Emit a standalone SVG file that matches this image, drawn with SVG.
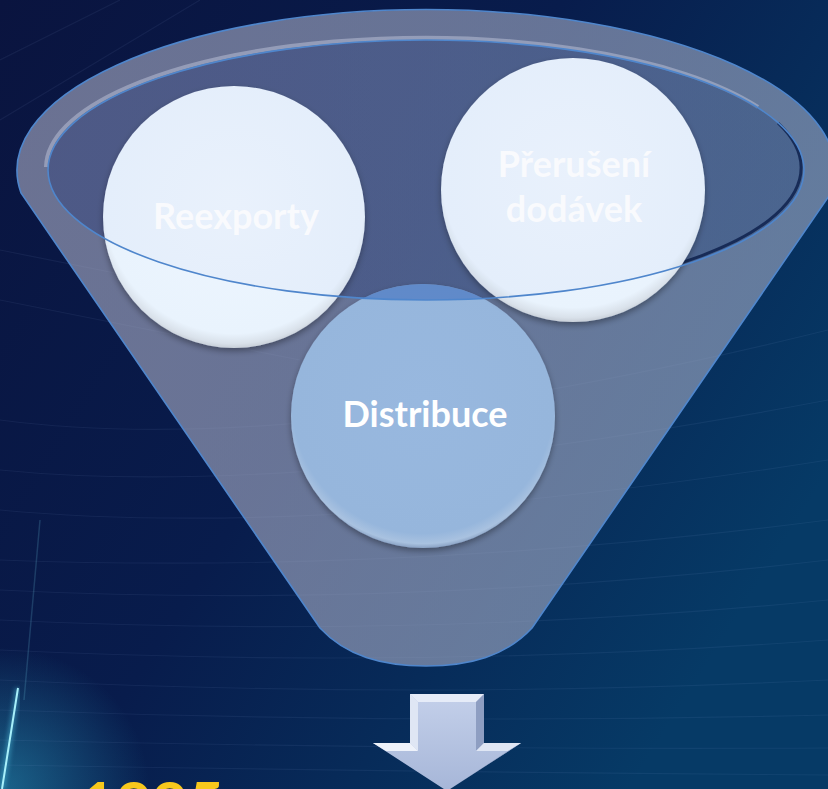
<svg xmlns="http://www.w3.org/2000/svg" width="828" height="789" viewBox="0 0 828 789">
<defs>
<style>
.lbl{font-family:Lato,"Open Sans","Liberation Sans",sans-serif;font-weight:bold;font-size:36px;fill:#ffffff;text-anchor:middle}
.streak{fill:none;stroke:#9fb8e8;stroke-width:1.2;opacity:0.08}
</style>
<linearGradient id="bg" x1="0" y1="0" x2="1" y2="0.6">
<stop offset="0" stop-color="#0a143f"/>
<stop offset="0.5" stop-color="#081c4c"/>
<stop offset="1" stop-color="#063a66"/>
</linearGradient>
<radialGradient id="glowBL" cx="0" cy="1" r="0.18">
<stop offset="0" stop-color="#2aa0c0" stop-opacity="0.55"/>
<stop offset="1" stop-color="#2aa0c0" stop-opacity="0"/>
</radialGradient>
<linearGradient id="funnelFill" x1="0" y1="0" x2="1" y2="0">
<stop offset="0" stop-color="#a2a6c0"/>
<stop offset="1" stop-color="#98a6c2"/>
</linearGradient>
<linearGradient id="innerFill" x1="0" y1="0" x2="1" y2="0">
<stop offset="0" stop-color="#1c2a68"/>
<stop offset="1" stop-color="#1e3e72"/>
</linearGradient>
<radialGradient id="whiteCircle" cx="0.5" cy="0.45" r="0.55">
<stop offset="0" stop-color="#eef6fe"/>
<stop offset="0.9" stop-color="#e9f3fd"/>
<stop offset="0.97" stop-color="#d9e1ea"/>
<stop offset="1" stop-color="#c8cfd8"/>
</radialGradient>
<radialGradient id="blueCircle" cx="0.5" cy="0.45" r="0.55">
<stop offset="0" stop-color="#98b8df"/>
<stop offset="0.9" stop-color="#96b6dc"/>
<stop offset="0.97" stop-color="#a9c2e0"/>
<stop offset="1" stop-color="#8aa2c4"/>
</radialGradient>
<linearGradient id="arrowFill" x1="0" y1="0" x2="0" y2="1">
<stop offset="0" stop-color="#c4d0ea"/>
<stop offset="1" stop-color="#a6b6d8"/>
</linearGradient>
<filter id="shadow" x="-20%" y="-20%" width="140%" height="140%">
<feDropShadow dx="0" dy="3" stdDeviation="3" flood-color="#000" flood-opacity="0.35"/>
</filter>
<filter id="blur2"><feGaussianBlur stdDeviation="2"/></filter>
<clipPath id="innerClip"><ellipse cx="426" cy="170" rx="378" ry="130"/></clipPath>
</defs>

<!-- background -->
<rect width="828" height="789" fill="url(#bg)"/>
<rect width="828" height="789" fill="url(#glowBL)"/>
<g id="background-streaks">
<path class="streak" d="M0,560 Q400,575 828,520"/>
<path class="streak" d="M0,590 Q400,610 828,560"/>
<path class="streak" d="M0,620 Q420,640 828,600"/>
<path class="streak" d="M0,650 Q420,670 828,640"/>
<path class="streak" d="M0,680 Q420,700 828,680"/>
<path class="streak" d="M0,710 Q420,725 828,715"/>
<path class="streak" d="M0,740 Q420,750 828,748"/>
<path class="streak" d="M0,765 Q420,772 828,775"/>
<path class="streak" d="M0,420 Q300,460 828,330"/>
<path class="streak" d="M0,470 Q300,500 828,400"/>
<path class="streak" d="M0,510 Q320,540 828,460"/>
<path class="streak" d="M0,300 L300,360"/>
<path class="streak" d="M0,250 L250,300"/>
<path class="streak" d="M0,60 L120,0"/>
<path class="streak" d="M0,120 L200,0"/>
<path d="M40,520 L24,700" stroke="#6fc8e0" stroke-width="1.5" opacity="0.2" fill="none"/>
<path d="M18,688 L2,789" stroke="#48b8d8" stroke-width="6" opacity="0.45" fill="none" filter="url(#blur2)"/>
<path d="M18,688 L2,789" stroke="#a8f0fa" stroke-width="2" fill="none"/>
</g>

<!-- funnel -->
<g id="funnel">
<path d="M21,193 A409,161 0 1 1 831,193 L532,628 C506,656 470,666 426,666 C382,666 346,656 320,628 Z" fill="url(#funnelFill)" fill-opacity="0.64" stroke="#4f86cc" stroke-width="1.6"/>
<path d="M48,170 A378,130 0 0 1 760,110" fill="none" stroke="#c0c6dc" stroke-width="4" opacity="0.5" transform="translate(-2,-3)"/>
<ellipse cx="426" cy="170" rx="378" ry="130" fill="url(#innerFill)" fill-opacity="0.42"/>
<path d="M780,125 A378,130 0 0 1 600,285" fill="none" stroke="#061a44" stroke-width="3" opacity="0.85" transform="translate(-2,-2)"/>
</g>

<!-- nodes -->
<g id="node-distribuce">
<circle cx="423" cy="416" r="132" fill="url(#blueCircle)" filter="url(#shadow)"/>
<circle cx="423" cy="416" r="132" fill="#2f62b8" opacity="0.55" clip-path="url(#innerClip)"/>
<text class="lbl" x="425" y="427">Distribuce</text>
</g>
<g id="node-reexporty">
<circle cx="234" cy="217" r="131" fill="url(#whiteCircle)" filter="url(#shadow)"/>
<text class="lbl" x="236" y="229">Reexporty</text>
</g>
<g id="node-preruseni">
<circle cx="573" cy="190" r="132" fill="url(#whiteCircle)" filter="url(#shadow)"/>
<text class="lbl" x="574" y="177">Přerušení</text>
<text class="lbl" x="574" y="222">dodávek</text>
</g>

<!-- ellipse rim drawn over the circles -->
<g id="funnel-rim">
<ellipse cx="426" cy="170" rx="378" ry="130" fill="#9ab0d8" fill-opacity="0.06" stroke="#4f86cc" stroke-width="1.6"/>
</g>

<!-- connectors -->
<g id="connectors">
<g id="arrow-down">
<path d="M410,694 L484,694 L484,743 L521,743 L447,791 L373,743 L410,743 Z" fill="url(#arrowFill)"/>
<path d="M410,694 L484,694 L476,702 L418,702 Z" fill="#e6ecf8"/>
<path d="M410,694 L418,702 L418,751 L410,743 Z" fill="#dfe6f4"/>
<path d="M484,694 L476,702 L476,751 L484,743 Z" fill="#8e9ec2"/>
<path d="M373,743 L410,743 L418,751 L386,751 Z" fill="#eef2fa"/>
<path d="M521,743 L484,743 L476,751 L508,751 Z" fill="#dfe6f4"/>
<path d="M521,743 L508,751 L447,791 Z" fill="#8e9ec2"/>
</g>
</g>

<text x="80" y="826" font-family="Lato,'Open Sans','Liberation Sans',sans-serif" font-weight="bold" font-size="62" fill="#f7c81c">1995</text>
</svg>
